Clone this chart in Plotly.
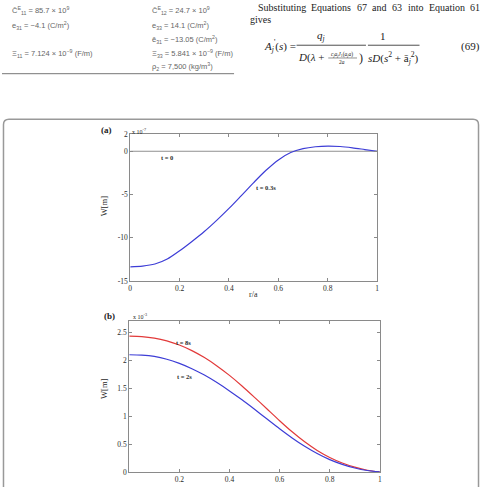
import plotly.graph_objects as go

W, H = 482, 487

# ---- data ----
r_vals = [0, 0.05, 0.1, 0.15, 0.2, 0.25, 0.3, 0.35, 0.4, 0.45, 0.5,
          0.55, 0.6, 0.65, 0.7, 0.75, 0.8, 0.85, 0.9, 0.95, 1.0]
# panel (a), units x1e-7 m
w_t03 = [-13.35, -13.27, -13.03, -12.45, -11.5, -10.42, -9.27, -7.98, -6.6, -5.12, -3.62,
         -2.2, -1.0, -0.15, 0.3, 0.52, 0.6, 0.55, 0.4, 0.2, 0.0]
r_t0 = [0, 1]
w_t0 = [0, 0]
# panel (b), units x1e-3 m
w_t8 = [2.44, 2.432, 2.405, 2.355, 2.28, 2.18, 2.055, 1.905, 1.735, 1.545, 1.34,
        1.13, 0.92, 0.72, 0.54, 0.385, 0.26, 0.16, 0.085, 0.03, 0.0]
w_t2 = [2.105, 2.098, 2.075, 2.025, 1.95, 1.855, 1.74, 1.605, 1.455, 1.295, 1.125,
        0.95, 0.775, 0.61, 0.46, 0.33, 0.22, 0.135, 0.07, 0.025, 0.0]

xa_ticks = [0, 0.2, 0.4, 0.6, 0.8, 1]
xa_text = ["0", "0.2", "0.4", "0.6", "0.8", "1"]
ya_ticks = [-15, -10, -5, 0, 2]
ya_text = ["-15", "-10", "-5", "0", "2"]
xb_ticks = [0.2, 0.4, 0.6, 0.8, 1]
xb_text = ["0.2", "0.4", "0.6", "0.8", "1"]
yb_ticks = [0, 0.5, 1, 1.5, 2, 2.5]
yb_text = ["0", "0.5", "1", "1.5", "2", "2.5"]

body_words = ["Substituting", "Equations", "67", "and", "63", "into", "Equation", "61"]


def px(x):
    return x / W


def py(y):
    return 1 - y / H


SERIF = "Liberation Serif"
SANS = "Liberation Sans"
AX = "#8a8a8a"
TXT = "#2a2a2a"

fig = go.Figure()
fig.add_trace(go.Scatter(x=r_t0, y=w_t0, mode="lines", line=dict(color="#909090", width=1),
                         xaxis="x", yaxis="y", showlegend=False))
fig.add_trace(go.Scatter(x=r_vals, y=w_t03, mode="lines",
                         line=dict(color="#3d3dd6", width=1.2, shape="spline", smoothing=0.8),
                         xaxis="x", yaxis="y", showlegend=False))
fig.add_trace(go.Scatter(x=r_vals, y=w_t8, mode="lines",
                         line=dict(color="#e23a3a", width=1.2, shape="spline", smoothing=0.8),
                         xaxis="x2", yaxis="y2", showlegend=False))
fig.add_trace(go.Scatter(x=r_vals, y=w_t2, mode="lines",
                         line=dict(color="#3d3dd6", width=1.2, shape="spline", smoothing=0.8),
                         xaxis="x2", yaxis="y2", showlegend=False))

axcommon = dict(showline=True, linecolor=AX, linewidth=1, mirror="allticks", ticks="inside",
                ticklen=3, tickcolor=AX, showgrid=False, zeroline=False,
                tickfont=dict(family=SERIF, size=7.5, color=TXT), tickmode="array")

fig.update_layout(
    width=W, height=H, autosize=False,
    margin=dict(l=0, r=0, t=0, b=0),
    paper_bgcolor="white", plot_bgcolor="white",
    xaxis=dict(domain=[px(129.3), px(378.3)], range=[0, 1], tickvals=xa_ticks, ticktext=xa_text,
               anchor="y", **axcommon),
    yaxis=dict(domain=[py(282.3), py(132.4)], range=[-15, 2], tickvals=ya_ticks, ticktext=ya_text,
               anchor="x", **axcommon),
    xaxis2=dict(domain=[px(128.3), px(381)], range=[0, 1], tickvals=xb_ticks, ticktext=xb_text,
                anchor="y2", **axcommon),
    yaxis2=dict(domain=[py(476.7), py(323.3)], range=[0, 2.706], tickvals=yb_ticks, ticktext=yb_text,
                anchor="x2", **axcommon),
)

ann = []


def A(x, y, text, size=7, family=SERIF, color=TXT, xanchor="center", textangle=0, ref="paper", xr=None, yr=None):
    d = dict(text=text, showarrow=False, font=dict(family=family, size=size, color=color),
             xanchor=xanchor, yanchor="middle", textangle=textangle)
    if ref == "paper":
        d.update(x=px(x), y=py(y), xref="paper", yref="paper")
    else:
        d.update(x=x, y=y, xref=xr, yref=yr)
    ann.append(d)


# panel labels and axis titles
A(105, 128, "<b>(a)</b>", size=9, color="#222")
A(108, 318, "<b>(b)</b>", size=9, color="#222")
A(129, 129, "x 10<sup>-7</sup>", size=6, xanchor="left")
A(130, 318, "x 10<sup>-3</sup>", size=6, xanchor="left")
A(103, 206, "W[m]", size=8.5, textangle=-90)
A(103, 392, "W[m]", size=8.5, textangle=-90)
A(254, 296, "r/a", size=8)
# curve labels
A(0.15, -0.7, "<b>t = 0</b>", size=6.5, ref="d", xr="x", yr="y")
A(0.55, -4.2, "<b>t = 0.3s</b>", size=6.5, ref="d", xr="x", yr="y")
A(0.215, 2.32, "<b>t = 8s</b>", size=6.5, ref="d", xr="x2", yr="y2")
A(0.22, 1.71, "<b>t = 2s</b>", size=6.5, ref="d", xr="x2", yr="y2")

# top-left table text
G = "#666666"
TS = 7.5
A(8, 7, "C̄<sup>E</sup><sub>11</sub> = 85.7 × 10<sup>9</sup>", size=TS, family=SANS, color=G, xanchor="left")
A(8, 22, "e<sub>31</sub> = −4.1 (C/m<sup>2</sup>)", size=TS, family=SANS, color=G, xanchor="left")
A(8, 50, "Ξ<sub>11</sub> = 7.124 × 10<sup>−9</sup> (F/m)", size=TS, family=SANS, color=G, xanchor="left")
A(149, 7, "C̄<sup>E</sup><sub>12</sub> = 24.7 × 10<sup>9</sup>", size=TS, family=SANS, color=G, xanchor="left")
A(149, 22, "e<sub>33</sub> = 14.1 (C/m<sup>2</sup>)", size=TS, family=SANS, color=G, xanchor="left")
A(149, 36, "ē<sub>31</sub> = −13.05 (C/m<sup>2</sup>)", size=TS, family=SANS, color=G, xanchor="left")
A(149, 50, "Ξ<sub>33</sub> = 5.841 × 10<sup>−9</sup> (F/m)", size=TS, family=SANS, color=G, xanchor="left")
A(149, 64, "ρ<sub>2</sub> = 7,500 (kg/m<sup>3</sup>)", size=TS, family=SANS, color=G, xanchor="left")

# top-right body text (justified line, placed word by word) and equation
B = "#222222"
word_x = [256, 310, 355.6, 371.3, 391.4, 407, 428.2, 469.5]
for wx, wd in zip(word_x, body_words):
    A(wx, 4, wd, size=10, color=B, xanchor="left")
A(248, 16, "gives", size=10, color=B, xanchor="left")
A(262, 43, "<i>A</i><sub><i>j</i></sub><sup>'</sup>(<i>s</i>)&nbsp;=", size=11, color=B, xanchor="left")
A(322, 33, "<i>q</i><sub><i>j</i></sub>", size=11, color=B)
A(296, 55, "<i>D</i>(<i>λ</i> +", size=11, color=B, xanchor="left")
A(343, 51, "<i>c<sub>j</sub>a<sub>j</sub>J</i><sub>1</sub>(<i>a<sub>j</sub>a</i>)", size=5.5, color=B)
A(343, 59, "2<i>a</i>", size=5.5, color=B)
A(362, 55, ")", size=12, color=B)
A(384, 33, "1", size=11, color=B)
A(395, 55, "<i>sD</i>(<i>s</i><sup>2</sup> + ā<sub><i>j</i></sub><sup>2</sup>)", size=11, color=B)
A(472, 43, "(69)", size=11, color=B)

fig.update_layout(annotations=ann)

shapes = []
# table rule
shapes.append(dict(type="line", xref="paper", yref="paper", x0=px(0), x1=px(234), y0=py(71), y1=py(71),
                   line=dict(color="#777", width=1)))
# fraction bars
shapes.append(dict(type="line", xref="paper", yref="paper", x0=px(297), x1=px(367), y0=py(42), y1=py(42),
                   line=dict(color=B, width=0.8)))
shapes.append(dict(type="line", xref="paper", yref="paper", x0=px(369), x1=px(421), y0=py(42), y1=py(42),
                   line=dict(color=B, width=0.8)))
shapes.append(dict(type="line", xref="paper", yref="paper", x0=px(329), x1=px(358), y0=py(55), y1=py(55),
                   line=dict(color=B, width=0.5)))
# figure frame with rounded top corners
path = (f"M {px(1.5)},{py(495)} L {px(1.5)},{py(123)} Q {px(1.5)},{py(117.5)} {px(7)},{py(117.5)} "
        f"L {px(475)},{py(117.5)} Q {px(480.5)},{py(117.5)} {px(480.5)},{py(123)} L {px(480.5)},{py(495)}")
shapes.append(dict(type="path", xref="paper", yref="paper", path=path, line=dict(color="#999", width=1.5)))
fig.update_layout(shapes=shapes)

fig.write_html("out.html")
